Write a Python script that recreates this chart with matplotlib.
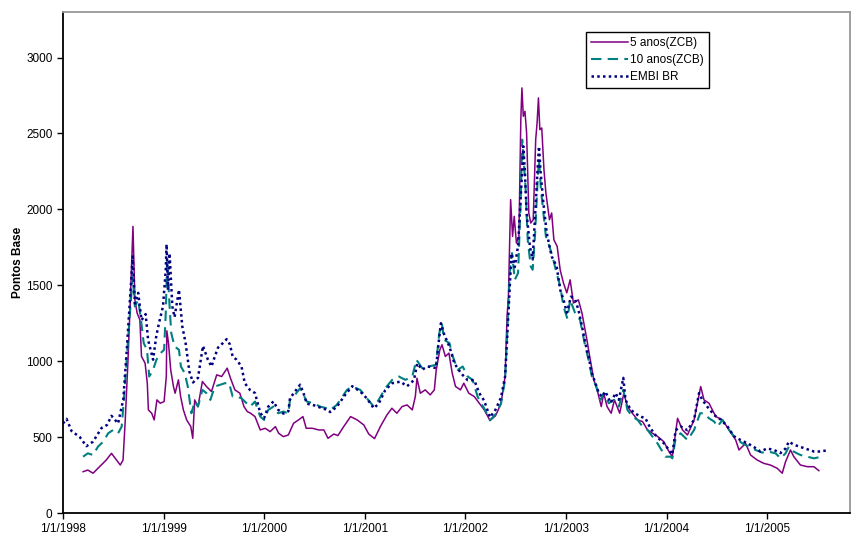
import pandas as pd
import matplotlib.pyplot as plt

plt.rcParams['font.family'] = ['Liberation Sans', 'DejaVu Sans']

# =========================
# DATA (basis points)
# =========================

embi_dates = [
    "1998-01-01", "1998-01-14", "1998-02-01", "1998-03-03", "1998-03-27", "1998-04-20",
    "1998-05-21", "1998-06-10", "1998-06-26", "1998-07-20", "1998-08-08", "1998-08-20",
    "1998-09-01", "1998-09-11", "1998-09-19", "1998-10-01", "1998-10-13", "1998-10-28",
    "1998-11-06", "1998-11-24", "1998-12-06", "1998-12-18", "1998-12-30", "1999-01-09",
    "1999-01-12", "1999-01-17", "1999-01-23", "1999-02-02", "1999-02-10", "1999-02-26",
    "1999-03-10", "1999-03-22", "1999-04-05", "1999-04-18", "1999-05-06", "1999-05-24",
    "1999-06-11", "1999-06-24", "1999-07-06", "1999-07-18", "1999-08-05", "1999-08-18",
    "1999-08-30", "1999-09-09", "1999-09-23", "1999-10-11", "1999-10-23", "1999-11-11",
    "1999-11-29", "1999-12-18", "2000-01-01", "2000-01-16", "2000-02-04", "2000-02-21",
    "2000-03-11", "2000-03-29", "2000-04-04", "2000-04-22", "2000-05-11", "2000-05-23",
    "2000-06-04", "2000-06-29", "2000-07-22", "2000-08-16", "2000-08-28", "2000-09-21",
    "2000-10-22", "2000-11-16", "2000-12-15", "2001-01-08", "2001-02-02", "2001-02-20",
    "2001-03-16", "2001-04-10", "2001-05-10", "2001-06-03", "2001-06-28", "2001-07-10",
    "2001-07-28", "2001-08-17", "2001-09-16", "2001-09-28", "2001-10-04", "2001-10-16",
    "2001-11-04", "2001-11-22", "2001-12-16", "2002-01-09", "2002-02-02", "2002-02-20",
    "2002-03-10", "2002-03-31", "2002-04-20", "2002-05-10", "2002-05-25", "2002-06-01",
    "2002-06-12", "2002-06-17", "2002-06-29", "2002-07-11", "2002-07-24", "2002-07-30",
    "2002-08-05", "2002-08-11", "2002-08-23", "2002-09-02", "2002-09-10", "2002-09-19",
    "2002-09-25", "2002-10-01", "2002-10-11", "2002-10-23", "2002-11-10", "2002-11-28",
    "2002-12-11", "2002-12-23", "2003-01-04", "2003-01-19", "2003-02-03", "2003-02-15",
    "2003-02-28", "2003-03-12", "2003-03-24", "2003-04-05", "2003-04-18", "2003-04-30",
    "2003-05-12", "2003-05-24", "2003-06-12", "2003-06-30", "2003-07-12", "2003-07-28",
    "2003-08-05", "2003-08-24", "2003-09-10", "2003-09-28", "2003-10-16", "2003-11-03",
    "2003-11-25", "2003-12-22", "2004-01-10", "2004-01-22", "2004-02-03", "2004-02-21",
    "2004-03-17", "2004-04-10", "2004-04-28", "2004-05-10", "2004-05-28", "2004-06-22",
    "2004-07-16", "2004-08-09", "2004-09-02", "2004-09-26", "2004-10-20", "2004-11-13",
    "2004-12-07", "2004-12-31", "2005-01-25", "2005-02-18", "2005-03-08", "2005-03-20",
    "2005-04-07", "2005-05-01", "2005-05-26", "2005-06-19", "2005-07-13", "2005-08-12",
]
embi_values = [
    590, 620, 540, 500, 440, 470,
    560, 580, 640, 590, 750, 1060,
    1400, 1690, 1380, 1450, 1270, 1310,
    1140, 1010, 1170, 1270, 1360, 1600,
    1770, 1470, 1710, 1360, 1290, 1470,
    1230, 1120, 930, 860, 890, 1100,
    1010, 965, 1030, 1090, 1120, 1145,
    1110, 1030, 1010, 965, 855, 810,
    790, 660, 625, 700, 735, 680,
    655, 670, 755, 800, 845, 790,
    720, 710, 695, 680, 665, 700,
    780, 835, 800, 755, 690, 720,
    810, 855, 865, 835, 875, 985,
    945, 965, 955, 1160, 1250, 1175,
    1095, 985, 920, 875, 875, 790,
    740, 630, 680, 760, 900, 1140,
    1540, 1710, 1620, 1760, 2195, 2415,
    2240, 1975, 1755, 1670, 1930, 2240,
    2415, 2240, 2040, 1845, 1690, 1625,
    1470, 1405, 1320, 1425, 1405, 1340,
    1230, 1120, 1030, 920, 855, 790,
    765, 800, 725, 790, 745, 890,
    745, 680, 655, 635, 625, 560,
    505, 460, 415, 385, 545, 570,
    545, 615, 790, 745, 700, 645,
    615, 570, 505, 480, 460, 435,
    405, 425, 415, 395, 425, 470,
    450, 435, 420, 405, 405, 415,
]

zcb5_dates = [
    "1998-03-15", "1998-04-01", "1998-04-20", "1998-05-14", "1998-06-07", "1998-06-26",
    "1998-07-14", "1998-07-28", "1998-08-07", "1998-08-15", "1998-08-25", "1998-09-02",
    "1998-09-12", "1998-09-19", "1998-09-27", "1998-10-07", "1998-10-13", "1998-10-26",
    "1998-11-03", "1998-11-07", "1998-11-19", "1998-11-28", "1998-12-08", "1998-12-20",
    "1999-01-03", "1999-01-11", "1999-01-13", "1999-01-19", "1999-01-27", "1999-02-06",
    "1999-02-12", "1999-02-24", "1999-03-04", "1999-03-14", "1999-03-26", "1999-04-10",
    "1999-04-17", "1999-04-24", "1999-05-06", "1999-05-22", "1999-06-06", "1999-06-24",
    "1999-07-13", "1999-07-31", "1999-08-20", "1999-09-01", "1999-09-17", "1999-10-05",
    "1999-10-20", "1999-11-01", "1999-11-13", "1999-11-29", "1999-12-18", "2000-01-05",
    "2000-01-23", "2000-02-11", "2000-02-23", "2000-03-11", "2000-03-29", "2000-04-17",
    "2000-05-05", "2000-05-21", "2000-06-02", "2000-06-24", "2000-07-18", "2000-08-05",
    "2000-08-20", "2000-09-10", "2000-09-25", "2000-10-16", "2000-11-10", "2000-12-04",
    "2000-12-28", "2001-01-15", "2001-02-05", "2001-02-26", "2001-03-22", "2001-04-09",
    "2001-04-27", "2001-05-16", "2001-06-03", "2001-06-22", "2001-07-03", "2001-07-09",
    "2001-07-21", "2001-08-08", "2001-08-26", "2001-09-10", "2001-09-17", "2001-09-30",
    "2001-10-08", "2001-10-20", "2001-11-02", "2001-11-14", "2001-11-26", "2001-12-14",
    "2001-12-26", "2002-01-13", "2002-02-02", "2002-02-20", "2002-03-10", "2002-03-31",
    "2002-04-20", "2002-05-10", "2002-05-25", "2002-06-01", "2002-06-06", "2002-06-14",
    "2002-06-21", "2002-06-27", "2002-07-05", "2002-07-14", "2002-07-21", "2002-07-25",
    "2002-07-30", "2002-08-05", "2002-08-11", "2002-08-19", "2002-08-26", "2002-09-04",
    "2002-09-13", "2002-09-18", "2002-09-23", "2002-09-28", "2002-10-05", "2002-10-13",
    "2002-10-20", "2002-11-02", "2002-11-10", "2002-11-18", "2002-11-30", "2002-12-11",
    "2002-12-23", "2003-01-04", "2003-01-16", "2003-01-28", "2003-02-15", "2003-02-28",
    "2003-03-18", "2003-03-28", "2003-04-12", "2003-04-24", "2003-05-09", "2003-05-18",
    "2003-05-30", "2003-06-14", "2003-06-26", "2003-07-15", "2003-07-30", "2003-08-12",
    "2003-08-30", "2003-09-18", "2003-10-06", "2003-10-24", "2003-11-11", "2003-11-29",
    "2003-12-22", "2004-01-10", "2004-01-22", "2004-02-10", "2004-02-28", "2004-03-17",
    "2004-04-10", "2004-05-04", "2004-05-16", "2004-06-03", "2004-06-28", "2004-07-22",
    "2004-08-15", "2004-09-08", "2004-09-20", "2004-10-14", "2004-11-01", "2004-11-25",
    "2004-12-19", "2005-01-12", "2005-02-06", "2005-02-24", "2005-03-08", "2005-03-26",
    "2005-04-07", "2005-05-01", "2005-05-26", "2005-06-19", "2005-07-07",
]
zcb5_values = [
    272, 283, 262, 305, 349, 393,
    349, 316, 349, 613, 1009, 1383,
    1888, 1404, 1317, 1272, 1031, 987,
    855, 679, 657, 613, 745, 723,
    734, 899, 1200, 1119, 943, 833,
    789, 877, 767, 679, 613, 569,
    492, 745, 701, 866, 833, 800,
    910, 899, 954, 888, 811, 789,
    701, 668, 657, 635, 547, 558,
    536, 569, 525, 503, 514, 591,
    613, 635, 558, 558, 547, 547,
    492, 520, 510, 569, 635, 613,
    580, 520, 490, 569, 646, 690,
    657, 701, 712, 679, 767, 888,
    789, 811, 778, 811, 943, 1075,
    1108, 1031, 1053, 921, 833, 811,
    855, 789, 767, 723, 680, 610,
    640, 720, 900, 1294, 1426, 2064,
    1822, 1954, 1778, 1822, 2591, 2800,
    2613, 2646, 2503, 1976, 1910, 1932,
    2459, 2569, 2734, 2525, 2536, 2261,
    2108, 1932, 1976, 1800, 1756, 1600,
    1514, 1450, 1536, 1383, 1404, 1317,
    1140, 1031, 877, 811, 701, 789,
    701, 657, 745, 657, 789, 701,
    657, 613, 602, 547, 525, 505,
    470, 404, 371, 624, 547, 514,
    613, 833, 745, 723, 635, 613,
    547, 481, 415, 459, 382, 349,
    327, 316, 294, 262, 338, 415,
    371, 316, 305, 305, 279,
]

zcb10_dates = [
    "1998-03-15", "1998-04-01", "1998-04-20", "1998-05-08", "1998-05-27", "1998-06-14",
    "1998-07-02", "1998-07-20", "1998-08-02", "1998-08-10", "1998-08-20", "1998-09-01",
    "1998-09-11", "1998-09-19", "1998-10-01", "1998-10-11", "1998-10-21", "1998-11-02",
    "1998-11-10", "1998-11-24", "1998-12-06", "1998-12-21", "1999-01-03", "1999-01-09",
    "1999-01-14", "1999-01-19", "1999-01-23", "1999-01-29", "1999-02-10", "1999-02-26",
    "1999-03-05", "1999-03-19", "1999-03-30", "1999-04-12", "1999-04-24", "1999-05-06",
    "1999-05-22", "1999-06-06", "1999-06-20", "1999-07-06", "1999-07-24", "1999-08-12",
    "1999-08-27", "1999-09-09", "1999-09-23", "1999-10-11", "1999-10-23", "1999-11-11",
    "1999-11-29", "1999-12-18", "2000-01-01", "2000-01-16", "2000-02-04", "2000-02-21",
    "2000-03-11", "2000-03-29", "2000-04-04", "2000-04-22", "2000-05-11", "2000-05-23",
    "2000-06-04", "2000-06-29", "2000-07-22", "2000-08-16", "2000-08-28", "2000-09-21",
    "2000-10-28", "2000-11-16", "2000-12-15", "2001-01-08", "2001-02-02", "2001-02-20",
    "2001-03-16", "2001-04-10", "2001-05-04", "2001-05-28", "2001-06-22", "2001-07-07",
    "2001-07-28", "2001-08-21", "2001-09-16", "2001-09-28", "2001-10-07", "2001-10-16",
    "2001-11-04", "2001-11-16", "2001-12-04", "2001-12-22", "2002-01-09", "2002-01-27",
    "2002-02-14", "2002-02-26", "2002-03-10", "2002-03-31", "2002-04-20", "2002-05-10",
    "2002-05-25", "2002-06-01", "2002-06-12", "2002-06-19", "2002-06-29", "2002-07-11",
    "2002-07-21", "2002-07-26", "2002-08-01", "2002-08-07", "2002-08-15", "2002-08-26",
    "2002-09-02", "2002-09-11", "2002-09-20", "2002-09-25", "2002-10-02", "2002-10-11",
    "2002-10-20", "2002-11-02", "2002-11-16", "2002-11-28", "2002-12-11", "2002-12-23",
    "2003-01-06", "2003-01-16", "2003-02-03", "2003-02-21", "2003-03-12", "2003-03-24",
    "2003-04-05", "2003-04-21", "2003-05-06", "2003-05-18", "2003-06-05", "2003-06-24",
    "2003-07-12", "2003-07-28", "2003-08-12", "2003-08-30", "2003-09-18", "2003-10-06",
    "2003-10-24", "2003-11-11", "2003-11-29", "2003-12-28", "2004-01-16", "2004-01-22",
    "2004-02-03", "2004-02-21", "2004-03-17", "2004-04-10", "2004-05-02", "2004-05-16",
    "2004-06-03", "2004-06-22", "2004-07-04", "2004-07-22", "2004-08-15", "2004-09-08",
    "2004-10-02", "2004-10-26", "2004-11-19", "2004-12-13", "2005-01-06", "2005-01-31",
    "2005-02-18", "2005-03-08", "2005-03-20", "2005-04-07", "2005-05-01", "2005-05-26",
    "2005-06-19", "2005-07-07",
]
zcb10_values = [
    371, 393, 382, 437, 470, 525,
    547, 525, 569, 745, 1009, 1317,
    1558, 1360, 1404, 1272, 1119, 1075,
    899, 943, 1009, 1053, 1075, 1317,
    1668, 1492, 1360, 1185, 1097, 1075,
    965, 921, 833, 657, 734, 701,
    811, 789, 745, 833, 844, 855,
    855, 767, 767, 756, 734, 701,
    734, 635, 613, 679, 701, 657,
    668, 657, 745, 778, 822, 778,
    734, 723, 701, 690, 679, 712,
    811, 833, 811, 756, 701, 745,
    822, 877, 899, 877, 899, 1009,
    954, 965, 976, 1185, 1251, 1140,
    1119, 1031, 943, 965, 899, 877,
    767, 723, 690, 610, 650, 720,
    880, 1162, 1624, 1712, 1536, 1580,
    2085, 2459, 2305, 2151, 1800, 1624,
    1602, 1844, 2195, 2327, 2130, 1976,
    1822, 1756, 1668, 1580, 1492, 1360,
    1280, 1404, 1317, 1272, 1097, 1009,
    899, 833, 745, 789, 723, 745,
    701, 811, 679, 635, 613, 569,
    547, 503, 459, 371, 371, 360,
    492, 525, 481, 547, 657, 657,
    624, 602, 569, 613, 547, 492,
    459, 437, 415, 398, 404, 393,
    360, 393, 437, 404, 382, 371,
    360, 367,
]

year_ticks = ["1998-01-01", "1999-01-01", "2000-01-01", "2001-01-01",
              "2002-01-01", "2003-01-01", "2004-01-01", "2005-01-01"]
year_labels = ["1/1/1998", "1/1/1999", "1/1/2000", "1/1/2001",
               "1/1/2002", "1/1/2003", "1/1/2004", "1/1/2005"]

# =========================
# PLOT
# =========================

fig = plt.figure(figsize=(8.51, 5.34), dpi=100)
ax = fig.add_axes([63 / 851, 21 / 534, 787 / 851, 501 / 534])

ax.plot(pd.to_datetime(zcb5_dates), zcb5_values, color="#800080",
        linewidth=1.1, label="5 anos(ZCB)")
ax.plot(pd.to_datetime(zcb10_dates), zcb10_values, color="#008080",
        linewidth=1.5, linestyle=(0, (5, 3)), label="10 anos(ZCB)")
ax.plot(pd.to_datetime(embi_dates), embi_values, color="#000080",
        linewidth=1.8, linestyle=(0, (1, 1.3)), label="EMBI BR")

ax.set_xlim(pd.Timestamp("1998-01-01"), pd.Timestamp("2005-10-28"))
ax.set_ylim(0, 3300)

ax.set_yticks(range(0, 3001, 500))
ax.set_xticks(pd.to_datetime(year_ticks))
ax.set_xticklabels(year_labels)
ax.tick_params(axis="both", labelsize=8.5, direction="out", length=4, width=1)

ax.set_ylabel("Pontos Base", fontsize=8.5, fontweight="bold")
ax.yaxis.set_label_coords(-0.050, 0.5)

for side in ["left", "bottom"]:
    ax.spines[side].set_color("black")
    ax.spines[side].set_linewidth(1.3)
for side in ["top", "right"]:
    ax.spines[side].set_color("#999999")
    ax.spines[side].set_linewidth(1.3)

leg = ax.legend(loc="upper left", bbox_to_anchor=(0.657, 0.972), fontsize=8.5,
                handlelength=3.2, handletextpad=0.15, borderpad=0.4,
                labelspacing=0.45, fancybox=False, framealpha=1)
leg.get_frame().set_edgecolor("black")
leg.get_frame().set_linewidth(1.0)

plt.savefig("out.png", dpi=100)
